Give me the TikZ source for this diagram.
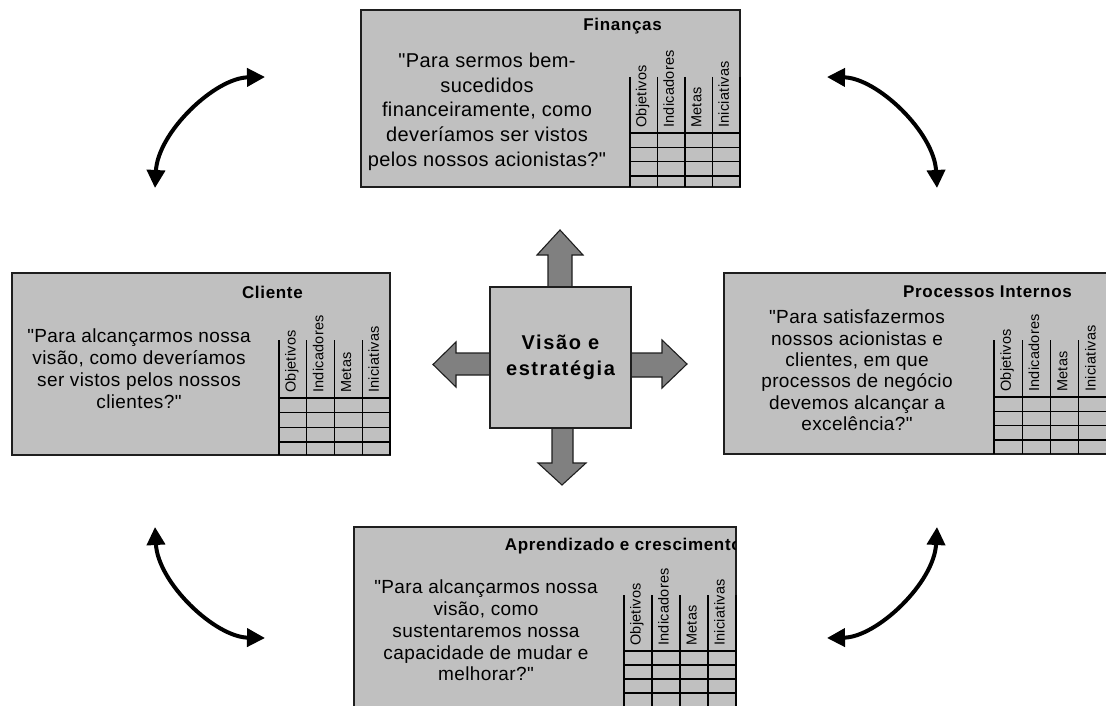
\documentclass[tikz,border=0pt]{standalone}
\usepackage{fontspec}
\setmainfont{Liberation Sans}
\newfontfamily\qfont{Liberation Sans}[LetterSpace=2]
\newfontfamily\tfont{Liberation Sans}[LetterSpace=4]
\newfontfamily\cfont{Liberation Sans}[LetterSpace=8]
\newfontfamily\lfont{Liberation Sans}[LetterSpace=2]
\usetikzlibrary{arrows.meta}
\definecolor{boxgray}{RGB}{192,192,192}
\definecolor{arrgray}{RGB}{128,128,128}
\definecolor{edgecol}{RGB}{30,30,30}
\tikzset{
  panel/.style={draw=edgecol, line width=1.5pt, fill=boxgray, inner sep=0pt, outer sep=0pt},
  quote/.style={align=center, inner sep=0pt},
  ttl/.style={inner sep=0pt, font=\tfont\bfseries\fontsize{17}{20}\selectfont},
  collbl/.style={rotate=90, anchor=mid west, inner sep=0pt, font=\lfont\fontsize{14.5}{16}\selectfont},
  gridline/.style={line width=1.3pt, draw=black},
  blockarrow/.style={fill=arrgray, draw=edgecol, line width=1.1pt, line join=miter},
  cyc/.style={line width=4pt, draw=black, {Triangle[length=18pt,width=18pt]}-{Triangle[length=18pt,width=18pt]}},
}
\newcommand\scorecard[7]{%
  \foreach \ii in {0,...,4} \draw[gridline] ({#1+\ii*#2},#3) -- ({#1+\ii*#2},#6);
  \foreach \jj in {0,...,3} \draw[gridline] (#1,{#4+\jj*#5}) -- ({#1+4*#2},{#4+\jj*#5});
  \foreach \lbl [count=\kk from 0] in {Objetivos,Indicadores,Metas,Iniciativas}
    \node[collbl] (#7-\kk) at ({#1+(\kk+0.5)*#2},{#4-5}) {\lbl};
}
\begin{document}
\begin{tikzpicture}[x=1pt,y=-1pt]
\useasboundingbox (0,0) rectangle (1106,706);
\clip (0,0) rectangle (1106,706);

% panels
\node[panel, anchor=north west, minimum width=379pt, minimum height=177pt] (fin) at (361,10) {};
\node[panel, anchor=north west, minimum width=378pt, minimum height=182pt] (cli) at (12,273) {};
\node[panel, anchor=north west, minimum width=386pt, minimum height=181pt] (pro) at (724,273) {};
\node[panel, anchor=north west, minimum width=382pt, minimum height=200pt] (apr) at (354,527) {};

% tables
\scorecard{630}{27.5}{77}{133}{14.33}{187}{fin}
\scorecard{279}{27.75}{340}{398}{14.67}{455}{cli}
\scorecard{994}{28.25}{340}{397}{14.33}{454}{pro}
\scorecard{624}{28}{595}{651}{14}{727}{apr}

% titles
\node[ttl, anchor=base east] (tfin) at (662,31) {Finanças};
\node[ttl, anchor=base east] (tcli) at (303,298) {Cliente};
\node[ttl, anchor=base east] (tpro) at (1072,297) {Processos Internos};
\begin{scope}
  \clip (355,528) rectangle (735,562);
  \node[ttl, anchor=base east] (tapr) at (742,550) {Aprendizado e crescimento};
\end{scope}

% quotes
\node[quote, font=\qfont\fontsize{20}{24.75}\selectfont] (qfin) at (487,112)
  {\strut"Para sermos bem-\\\strut sucedidos\\\strut financeiramente, como\\\strut deveríamos ser vistos\\\strut pelos nossos acionistas?"};
\node[quote, font=\qfont\fontsize{19}{22}\selectfont] (qcli) at (139,371)
  {\strut"Para alcançarmos nossa\\\strut visão, como deveríamos\\\strut ser vistos pelos nossos\\\strut clientes?"};
\node[quote, font=\qfont\fontsize{19}{21.4}\selectfont] (qpro) at (857,373)
  {\strut"Para satisfazermos\\\strut nossos acionistas e\\\strut clientes, em que\\\strut processos de negócio\\\strut devemos alcançar a\\\strut excelência?"};
\node[quote, font=\qfont\fontsize{19}{21.7}\selectfont] (qapr) at (486,633)
  {\strut"Para alcançarmos nossa\\\strut visão, como\\\strut sustentaremos nossa\\\strut capacidade de mudar e\\\strut melhorar?"};

% block arrows from the centre box
\draw[blockarrow] (548,292) -- (548,255) -- (537,255) -- (560,230) -- (583,255) -- (572,255) -- (572,292) -- cycle;
\draw[blockarrow] (552,423) -- (552,463) -- (538,463) -- (562,485) -- (586,463) -- (573,463) -- (573,423) -- cycle;
\draw[blockarrow] (626,353) -- (662,353) -- (662,340) -- (687,364) -- (662,388) -- (662,377) -- (626,377) -- cycle;
\draw[blockarrow] (495,353) -- (456,353) -- (456,342) -- (433,364.5) -- (456,387) -- (456,375) -- (495,375) -- cycle;

% centre box
\node[panel, minimum width=141pt, minimum height=141pt, align=center,
      font=\cfont\bfseries\fontsize{20}{26}\selectfont] (vis) at (560.5,357.5)
  {\strut Visão e\\\strut estratégia};

% curved cycle arrows
\coordinate (tl1) at (265,77);  \coordinate (tl2) at (155,188);
\coordinate (tr1) at (827,77);  \coordinate (tr2) at (937,188);
\coordinate (bl1) at (155,527); \coordinate (bl2) at (265,638);
\coordinate (br1) at (937,527); \coordinate (br2) at (827,638);
\draw[cyc] (tl1) .. controls (215,78) and (158,132) .. (tl2);
\draw[cyc] (tr1) .. controls (877,78) and (934,132) .. (tr2);
\draw[cyc] (bl1) .. controls (158,583) and (215,637) .. (bl2);
\draw[cyc] (br1) .. controls (934,583) and (877,637) .. (br2);
\end{tikzpicture}
\end{document}
